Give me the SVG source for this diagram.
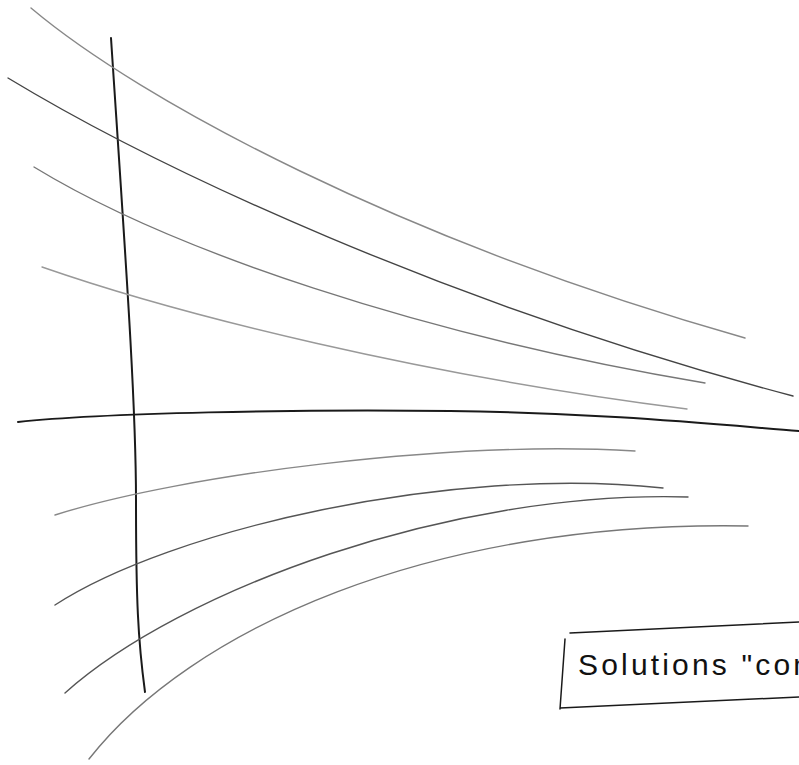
<svg xmlns="http://www.w3.org/2000/svg" width="799" height="765" viewBox="0 0 799 765">
<style>
.ax{fill:none;stroke:#1a1a1a;stroke-width:2;stroke-linecap:round}
.c{fill:none;stroke-width:1.4;stroke-linecap:round}
.bx{fill:none;stroke:#1a1a1a;stroke-width:1.5;stroke-linecap:round}
.lbl{font-family:"Liberation Sans",Arial,sans-serif;font-size:30px;fill:#111}
</style>
<rect width="799" height="765" fill="#fff"/>
<g id="axes">
<path class="ax" d="M111,38 C125,250 136,400 136,500 S138,640 145,692"/>
<path class="ax" stroke-width="1.6" d="M18,422 C100,413 300,409 450,411 S700,423 799,431"/>
</g>
<g id="connectors">
<path class="c" stroke="#888" d="M31,8 C140,100 400,240 745,338"/>
<path class="c" stroke="#444" d="M8,78 C160,170 450,305 793,396"/>
<path class="c" stroke="#777" d="M34,167 C170,250 420,335 705,383"/>
<path class="c" stroke="#999" d="M42,267 C180,315 420,375 687,409"/>
<path class="c" stroke="#888" d="M55,515 C180,475 450,440 635,451"/>
<path class="c" stroke="#555" d="M55,605 C170,530 450,465 663,488"/>
<path class="c" stroke="#555" d="M65,693 C180,590 450,490 688,497"/>
<path class="c" stroke="#777" d="M89,759 C190,630 430,520 748,526"/>
</g>
<g id="label">
<path class="bx" d="M570,633 L799,622 M565,639 L560,709 M560,708 L799,697"/>
<text class="lbl" x="578" y="675" textLength="232" lengthAdjust="spacing">Solutions "con</text>
</g>
</svg>
